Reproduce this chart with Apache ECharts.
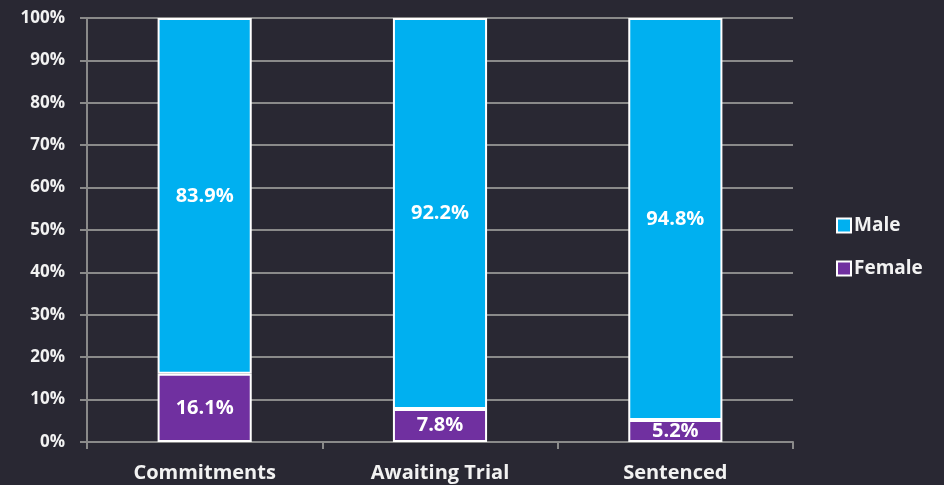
<!DOCTYPE html>
<html>
<head>
<meta charset="utf-8">
<script src="https://cdn.jsdelivr.net/npm/echarts@6/dist/echarts.min.js"></script>
<style>
  html, body { margin: 0; padding: 0; background: #292833; }
  #main { width: 944px; height: 485px; }
</style>
</head>
<body>
<div id="main"></div>
<script>
// data
var categories = ['Commitments', 'Awaiting Trial', 'Sentenced']
var female = [16.1, 7.8, 5.2]
var male = [83.9, 92.2, 94.8]

var font = '"Open Sans", Lato, sans-serif'
var lineCol = '#8a8a8a'

var myChart = echarts.init(document.getElementById('main'))

myChart.setOption({
  backgroundColor: '#292833',
  animation: false,
  grid: { left: 87, right: 151, top: 18, bottom: 43, containLabel: false },
  legend: {
    orient: 'vertical',
    left: 831,
    top: 211,
    itemGap: 24,
    itemWidth: 14,
    itemHeight: 14,
    icon: 'rect',
    itemStyle: { borderColor: '#ffffff', borderWidth: 2 },
    textStyle: { color: '#f2f2f2', fontSize: 19, fontWeight: 'bold', fontFamily: font, padding: [0, 0, 0, -2] },
    data: ['Male', 'Female']
  },
  xAxis: {
    type: 'category',
    data: categories,
    axisLine: { lineStyle: { color: lineCol, width: 2 } },
    axisTick: { show: true, length: 7, lineStyle: { color: lineCol, width: 2 } },
    axisLabel: { color: '#f2f2f2', fontSize: 20, fontWeight: 'bold', fontFamily: font, margin: 21 }
  },
  yAxis: {
    type: 'value',
    min: 0,
    max: 100,
    interval: 10,
    axisLine: { show: true, lineStyle: { color: lineCol, width: 2 } },
    axisTick: { show: true, length: 7, lineStyle: { color: lineCol, width: 2 } },
    splitLine: { lineStyle: { color: lineCol, width: 2 } },
    axisLabel: { color: '#f2f2f2', fontSize: 17, fontWeight: 'bold', fontFamily: font, margin: 22, formatter: '{value}%' }
  },
  series: [
    {
      name: 'Female',
      type: 'bar',
      stack: 'total',
      barWidth: '40%',
      data: female,
      itemStyle: { color: '#7030a0', borderColor: '#ffffff', borderWidth: 2 },
      label: { show: true, position: 'inside', color: '#ffffff', fontSize: 20, fontWeight: 'bold', fontFamily: font, formatter: '{c}%' }
    },
    {
      name: 'Male',
      type: 'bar',
      stack: 'total',
      data: male,
      itemStyle: { color: '#00b0f0', borderColor: '#ffffff', borderWidth: 2 },
      label: { show: true, position: 'inside', color: '#ffffff', fontSize: 20, fontWeight: 'bold', fontFamily: font, formatter: '{c}%' }
    }
  ]
})
</script>
</body>
</html>
